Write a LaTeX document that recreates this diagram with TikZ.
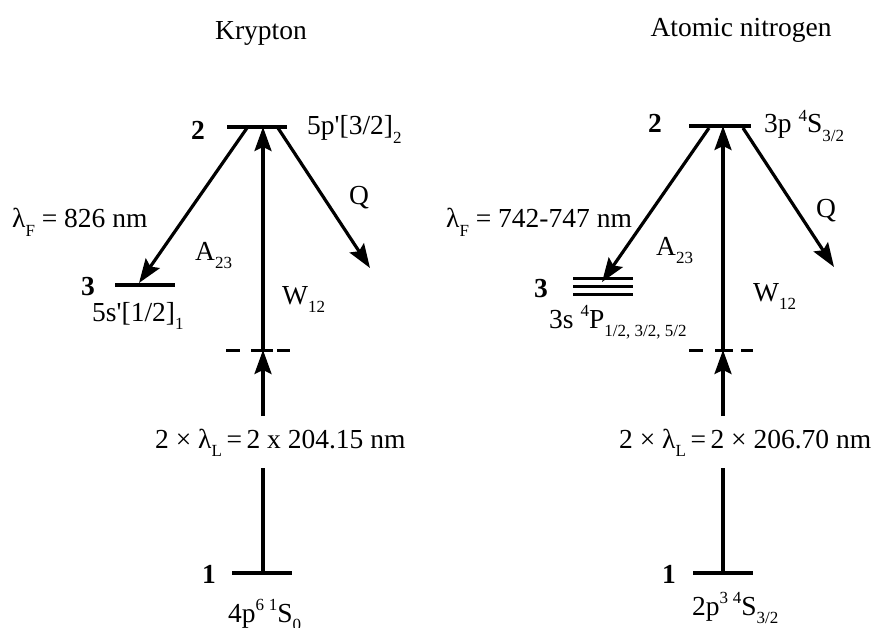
\documentclass[tikz,border=0pt]{standalone}
\usepackage{fontspec}
\setmainfont{Liberation Serif}
\usetikzlibrary{arrows.meta}
\newcommand\sbs[1]{\raisebox{-0.32em}{\fontsize{17}{17}\selectfont #1}}
\newcommand\sps[1]{\raisebox{0.42em}{\fontsize{17}{17}\selectfont #1}}
\begin{document}
\begin{tikzpicture}[x=1pt,y=-1pt,
  lvl/.style={line width=3.4pt},
  vlvl/.style={line width=3pt},
  arr/.style={line width=3.2pt,-{Stealth[length=24pt,width=17pt,inset=4pt]}},
  txt/.style={font=\fontsize{27.5}{32}\selectfont,anchor=base west,inner sep=0pt},
  ttl/.style={font=\fontsize{27.5}{32}\selectfont,anchor=base,inner sep=0pt},
  num/.style={font=\fontsize{27.5}{32}\selectfont\bfseries,anchor=base west,inner sep=0pt}]
\useasboundingbox (0,0) rectangle (872,628);
% ================= Krypton =================
\node[ttl] (kt) at (261,40) {Krypton};
\coordinate (k2l) at (227,127); \coordinate (k2r) at (287,127);
\coordinate (k3l) at (115,285); \coordinate (k3r) at (175,285);
\coordinate (k1l) at (232,573); \coordinate (k1r) at (292,573);
\draw[lvl] (k2l) -- (k2r);
\draw[lvl] (k3l) -- (k3r);
\draw[lvl] (k1l) -- (k1r);
\coordinate (kv) at (263,350);
\draw[vlvl] (226,350) -- (240,350);
\draw[vlvl] (251,350) -- (273,350);
\draw[vlvl] (277,350) -- (290,350);
\coordinate (k2top) at (263,127);
\coordinate (k2a) at (247,128); \coordinate (k3t) at (139,283);
\coordinate (k2b) at (278,128); \coordinate (kq) at (370,268);
\coordinate (k1c) at (263,573);
\coordinate (kgb) at (263,468); \coordinate (kgt) at (263,416);
\draw[arr] (k2a) -- (k3t);
\draw[arr] (k2b) -- (kq);
\draw[arr] (kv) -- (k2top);
\draw[lvl] (k1c) -- (kgb);
\draw[arr] (kgt) -- (kv);
\node[num] (kn2) at (191,140) {2};
\node[txt] (ks2) at (307,135) {5p\textquotesingle[3/2]\sbs{2}};
\node[txt] (klf) at (12,228) {λ\sbs{F} = 826 nm};
\node[txt] (ka) at (195,260) {A\sbs{23}};
\node[txt] (kQ) at (349,205) {Q};
\node[num] (kn3) at (81,295) {3};
\node[txt] (ks3) at (92,321) {5s\textquotesingle[1/2]\sbs{1}};
\node[txt] (kw) at (282,304) {W\sbs{12}};
\node[txt] (kl) at (155,448) {2 × λ\sbs{L}\,=\,2 x 204.15 nm};
\node[num] (kn1) at (202,583) {1};
\node[txt] (ks1) at (228,622) {4p\sps{6}\,\sps{1}S\sbs{0}};
% ================= Nitrogen =================
\node[ttl] (nt) at (741,37) {Atomic nitrogen};
\coordinate (n2l) at (689,126); \coordinate (n2r) at (751,126);
\coordinate (n1l) at (693,573); \coordinate (n1r) at (753,573);
\draw[lvl] (n2l) -- (n2r);
\draw[lvl] (n1l) -- (n1r);
\draw[line width=3pt] (573,278) -- (633,278);
\draw[line width=3pt] (573,286) -- (633,286);
\draw[line width=3pt] (573,294) -- (633,294);
\coordinate (nv) at (723,350);
\draw[vlvl] (689,350) -- (703,350);
\draw[vlvl] (715,350) -- (733,350);
\draw[vlvl] (741,350) -- (753,350);
\coordinate (n2top) at (723,126);
\coordinate (n2a) at (709,128); \coordinate (n3t) at (602,282);
\coordinate (n2b) at (743,128); \coordinate (nq) at (834,267);
\coordinate (n1c) at (723,573);
\coordinate (ngb) at (723,468); \coordinate (ngt) at (723,416);
\draw[arr] (n2a) -- (n3t);
\draw[arr] (n2b) -- (nq);
\draw[arr] (nv) -- (n2top);
\draw[lvl] (n1c) -- (ngb);
\draw[arr] (ngt) -- (nv);
\node[num] (nn2) at (648,133) {2};
\node[txt] (ns2) at (764,133) {3p \sps{4}S\sbs{3/2}};
\node[txt] (nlf) at (446,228) {λ\sbs{F} = 742-747 nm};
\node[txt] (na) at (656,255) {A\sbs{23}};
\node[txt] (nQ) at (816,218) {Q};
\node[num] (nn3) at (534,297) {3};
\node[txt] (ns3) at (549,328) {3s \sps{4}P\sbs{1/2, 3/2, 5/2}};
\node[txt] (nw) at (753,301) {W\sbs{12}};
\node[txt] (nl) at (619,448) {2 × λ\sbs{L}\,=\,2 × 206.70 nm};
\node[num] (nn1) at (662,583) {1};
\node[txt] (ns1) at (692,615) {2p\sps{3}\,\sps{4}S\sbs{3/2}};
\end{tikzpicture}
\end{document}
